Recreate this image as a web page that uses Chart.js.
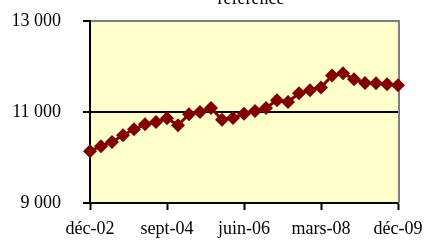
<!DOCTYPE html>
<html>
<head>
<meta charset="utf-8">
<script src="https://cdn.jsdelivr.net/npm/chart.js@4/dist/chart.umd.min.js"></script>
<style>
body{margin:0;background:#fff}
</style>
</head>
<body>
<canvas id="chart" width="426" height="241"></canvas>
<script>

const quarters=[
"déc-02","mars-03","juin-03","sept-03","déc-03","mars-04","juin-04","sept-04",
"déc-04","mars-05","juin-05","sept-05","déc-05","mars-06","juin-06","sept-06",
"déc-06","mars-07","juin-07","sept-07","déc-07","mars-08","juin-08","sept-08",
"déc-08","mars-09","juin-09","sept-09","déc-09"
]

const values=[
10140,10250,10340,10490,10620,10730,10780,10860,
10710,10950,11000,11090,10830,10870,10960,11020,
11090,11260,11220,11410,11480,11540,11800,11850,
11720,11640,11630,11610,11590
]

const yTicks=[9000,11000,13000]

const titleText="référence"

const FONT='"Liberation Serif", "Times New Roman", serif'

function fmt(v){
return String(v).replace(/\B(?=(\d{3})+(?!\d))/g," ")
}

// yellow plot area, grey right border, clipped title at the top
const plotBg={
id:"plotBg",
beforeDraw(chart){
const {ctx,chartArea:a}=chart
ctx.save()
ctx.fillStyle="#FFFFCC"
ctx.fillRect(a.left,a.top,a.right-a.left,a.bottom-a.top)
ctx.restore()
},
beforeDatasetsDraw(chart){
const {ctx,chartArea:a}=chart
ctx.save()
ctx.strokeStyle="#808080"
ctx.lineWidth=2
ctx.beginPath()
ctx.moveTo(a.right+1,a.top-1)
ctx.lineTo(a.right+1,a.bottom)
ctx.stroke()
ctx.restore()
},
afterDraw(chart){
const ctx=chart.ctx
ctx.save()
ctx.font="18px "+FONT
ctx.fillStyle="#000"
ctx.textAlign="center"
ctx.textBaseline="alphabetic"
ctx.fillText(titleText,251,4)
ctx.restore()
}
}

new Chart(document.getElementById("chart"),{
type:"line",
data:{
labels:quarters,
datasets:[{
data:values,
borderColor:"#800000",
backgroundColor:"#800000",
borderWidth:3,
pointStyle:"rectRot",
pointRadius:7,
pointBorderWidth:0,
tension:0,
clip:false
}]
},
options:{
responsive:false,
animation:false,
layout:{autoPadding:false,padding:{top:21,right:28,left:0,bottom:0}},
plugins:{legend:{display:false},tooltip:{enabled:false}},
scales:{
x:{
offset:false,
afterFit(s){
s.height=38;s.paddingLeft=0;s.paddingRight=0;s.paddingTop=0;s.paddingBottom=0
},
border:{color:"#000",width:2},
grid:{
drawOnChartArea:false,
tickLength:7,
tickWidth:2,
tickColor:c=>c.index%7===0?"#000":"rgba(0,0,0,0)"
},
ticks:{
autoSkip:false,
maxRotation:0,
padding:8,
color:"#000",
font:{family:FONT,size:18},
callback(v,i){return i%7===0?quarters[i]:""}
}
},
y:{
min:yTicks[0],
max:yTicks[yTicks.length-1],
afterFit(s){
s.width=90;s.paddingLeft=0;s.paddingRight=0;s.paddingTop=0;s.paddingBottom=0
},
afterBuildTicks(s){s.ticks=yTicks.map(v=>({value:v}))},
border:{color:"#000",width:2},
grid:{
lineWidth:2,
color:c=>c.tick&&c.tick.value===13000?"#808080":"#000",
tickColor:"#000",
tickLength:7,
tickWidth:2
},
ticks:{
padding:22,
color:"#000",
font:{family:FONT,size:18},
callback:v=>fmt(v)
}
}
}
},
plugins:[plotBg]
})

</script>
</body>
</html>
